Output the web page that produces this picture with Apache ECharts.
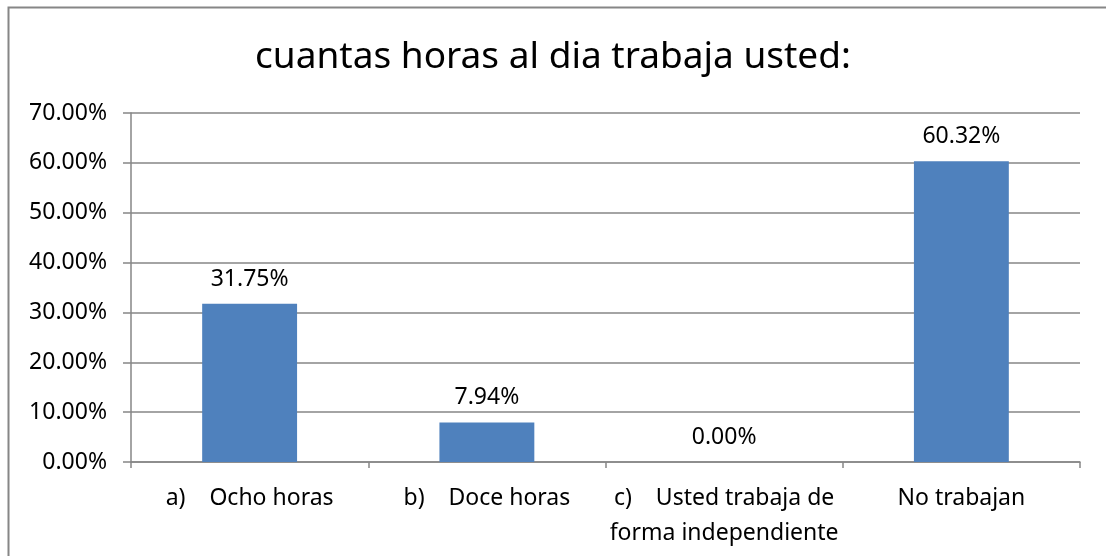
<!DOCTYPE html>
<html>
<head>
	<meta charset="utf-8">
	<title>ECharts</title>
	<script src="https://cdn.jsdelivr.net/npm/echarts@6/dist/echarts.min.js"></script>
	<style type="text/css">
		html, body {
			height: 100%;
			margin: 0;
			background: #fff;
		}
	</style>
</head>
<body>
	<div id="main" style="width: 1106px;height:556px;"></div>
	<script type="text/javascript">
	// datos del grafico
	var categorias = ['a)    Ocho horas', 'b)    Doce horas', 'c)    Usted trabaja de\nforma independiente', 'No trabajan'];
	var porcentajes = [31.75, 7.94, 0.00, 60.32];
	var ejeMin = 0;
	var ejeMax = 70;
	var ejePaso = 10;

	var gris = '#868686';
	var fuente = 'Noto Sans';

	var myChart = echarts.init(document.getElementById('main'));
	var option = {
		backgroundColor: '#fff',
		textStyle: { fontFamily: fuente },
		title: {
			text: 'cuantas horas al dia trabaja usted:',
			left: 'center',
			top: 34,
			textStyle: {
				fontFamily: fuente,
				fontSize: 37,
				fontWeight: 'normal',
				color: '#000'
			}
		},
		graphic: [{
			type: 'rect',
			shape: { x: 8.5, y: 7.5, width: 1110, height: 560 },
			style: { fill: 'none', stroke: gris, lineWidth: 2 },
			silent: true
		}],
		grid: {
			left: 131,
			right: 26,
			top: 113,
			bottom: 94
		},
		xAxis: {
			type: 'category',
			data: categorias,
			axisLine: { lineStyle: { color: gris, width: 1.5 } },
			axisTick: { show: true, length: 6, lineStyle: { color: gris, width: 1.5 } },
			axisLabel: {
				interval: 0,
				margin: 19,
				fontFamily: fuente,
				fontSize: 23,
				lineHeight: 35,
				color: '#000'
			}
		},
		yAxis: {
			type: 'value',
			min: ejeMin,
			max: ejeMax,
			interval: ejePaso,
			axisLine: { show: true, lineStyle: { color: gris, width: 1.5 } },
			axisTick: { show: true, length: 8, lineStyle: { color: gris, width: 1.5 } },
			splitLine: { show: true, lineStyle: { color: gris, width: 1.5 } },
			axisLabel: {
				margin: 24,
				fontFamily: fuente,
				fontSize: 23,
				color: '#000',
				formatter: function (v) { return v.toFixed(2) + '%'; }
			}
		},
		series: [{
			type: 'bar',
			data: porcentajes,
			barWidth: '40%',
			itemStyle: { color: '#4F81BD' },
			label: {
				show: true,
				position: 'top',
				distance: 13,
				fontFamily: fuente,
				fontSize: 23,
				color: '#000',
				formatter: function (p) { return p.value.toFixed(2) + '%'; }
			}
		}]
	};
	myChart.setOption(option);
	</script>
</body>
</html>
